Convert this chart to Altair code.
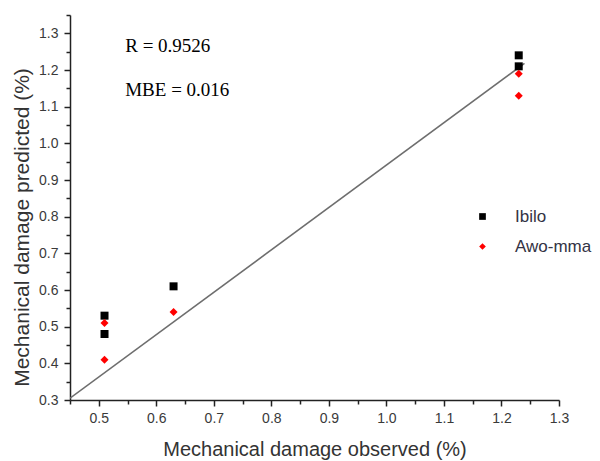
import altair as alt
import pandas as pd

# ---- data ----
ibilo_obs = [0.51, 0.51, 0.63, 1.23, 1.23]
ibilo_pred = [0.53, 0.48, 0.61, 1.24, 1.21]
awo_obs = [0.51, 0.51, 0.63, 1.23, 1.23]
awo_pred = [0.51, 0.41, 0.54, 1.19, 1.13]
series_names = ["Ibilo", "Awo-mma"]

fit_x = [0.45, 1.24]
fit_y = [0.305, 1.218]

ann_text = ["R = 0.9526", "MBE = 0.016"]
ann_x = [0.546, 0.546]
ann_y = [1.249, 1.129]

x_major = [0.5, 0.6, 0.7, 0.8, 0.9, 1.0, 1.1, 1.2, 1.3]
x_minor = [0.45, 0.55, 0.65, 0.75, 0.85, 0.95, 1.05, 1.15, 1.25]
y_major = [0.3, 0.4, 0.5, 0.6, 0.7, 0.8, 0.9, 1.0, 1.1, 1.2, 1.3]
y_minor = [0.35, 0.45, 0.55, 0.65, 0.75, 0.85, 0.95, 1.05, 1.15, 1.25, 1.35]

x_domain = [0.45, 1.3]
y_domain = [0.3, 1.35]

pts = pd.DataFrame({
    "obs": ibilo_obs + awo_obs,
    "pred": ibilo_pred + awo_pred,
    "site": [series_names[0]] * len(ibilo_obs) + [series_names[1]] * len(awo_obs),
})
fit = pd.DataFrame({"obs": fit_x, "pred": fit_y})
ann = pd.DataFrame({"obs": ann_x, "pred": ann_y, "label": ann_text})

FONT = "Liberation Sans"
AXIS_COL = "#222222"
LABEL_COL = "#3a3a3a"

xs = alt.Scale(domain=x_domain, nice=False, zero=False)
ys = alt.Scale(domain=y_domain, nice=False, zero=False)

x_axis_major = alt.Axis(
    values=x_major, format=".1f", title="Mechanical damage observed (%)",
    grid=False, domainColor=AXIS_COL, domainWidth=1.5, tickColor=AXIS_COL,
    tickWidth=1.5, tickSize=6, labelFont=FONT, labelFontSize=14,
    labelColor=LABEL_COL, labelPadding=5, titleFont=FONT, titleFontSize=20,
    titleFontWeight="normal", titleColor="#333333", titlePadding=14,
    labelFlush=False, orient="bottom",
)
y_axis_major = alt.Axis(
    values=y_major, format=".1f", title="Mechanical damage predicted (%)",
    grid=False, domainColor=AXIS_COL, domainWidth=1.5, tickColor=AXIS_COL,
    tickWidth=1.5, tickSize=6, labelFont=FONT, labelFontSize=14,
    labelColor=LABEL_COL, labelPadding=6, titleFont=FONT, titleFontSize=21,
    titleFontWeight="normal", titleColor="#333333", titlePadding=6,
    titleY=212, labelFlush=False, orient="left",
)
x_axis_minor = alt.Axis(
    values=x_minor, labels=False, title=None, grid=False, domain=False,
    ticks=True, tickColor=AXIS_COL, tickWidth=1.5, tickSize=4, orient="bottom",
)
y_axis_minor = alt.Axis(
    values=y_minor, labels=False, title=None, grid=False, domain=False,
    ticks=True, tickColor=AXIS_COL, tickWidth=1.5, tickSize=4, orient="left",
)

line = alt.Chart(fit).mark_line(color="#6e6e6e", strokeWidth=1.6, clip=True).encode(
    x=alt.X("obs:Q", scale=xs, axis=x_axis_major),
    y=alt.Y("pred:Q", scale=ys, axis=y_axis_major),
)

legend = alt.Legend(
    orient="none", legendX=404, legendY=193, title=None, labelFont=FONT,
    labelFontSize=17, labelColor="#333344", labelOffset=24, rowPadding=12,
    symbolSize=45, padding=0,
)

points = alt.Chart(pts).mark_point(filled=True, opacity=1, size=64).encode(
    x=alt.X("obs:Q", scale=xs, axis=x_axis_minor),
    y=alt.Y("pred:Q", scale=ys, axis=y_axis_minor),
    color=alt.Color("site:N", scale=alt.Scale(domain=series_names, range=["#000000", "#ff0000"]), legend=legend),
    shape=alt.Shape("site:N", scale=alt.Scale(domain=series_names, range=["square", "diamond"]), legend=legend),
)

text = alt.Chart(ann).mark_text(
    font="Liberation Serif", fontSize=19, align="left", baseline="alphabetic", color="#000000"
).encode(
    x=alt.X("obs:Q", scale=xs, axis=None),
    y=alt.Y("pred:Q", scale=ys, axis=None),
    text="label:N",
)

chart = alt.layer(line, points, text).resolve_axis(x="independent", y="independent").properties(
    width=489, height=385,
    padding={"left": 62, "top": 7, "right": 33, "bottom": 61},
    autosize=alt.AutoSizeParams(type="none"),
).configure_view(stroke=None)

chart.save("out.html", embed_options={"renderer": "svg", "actions": False})
